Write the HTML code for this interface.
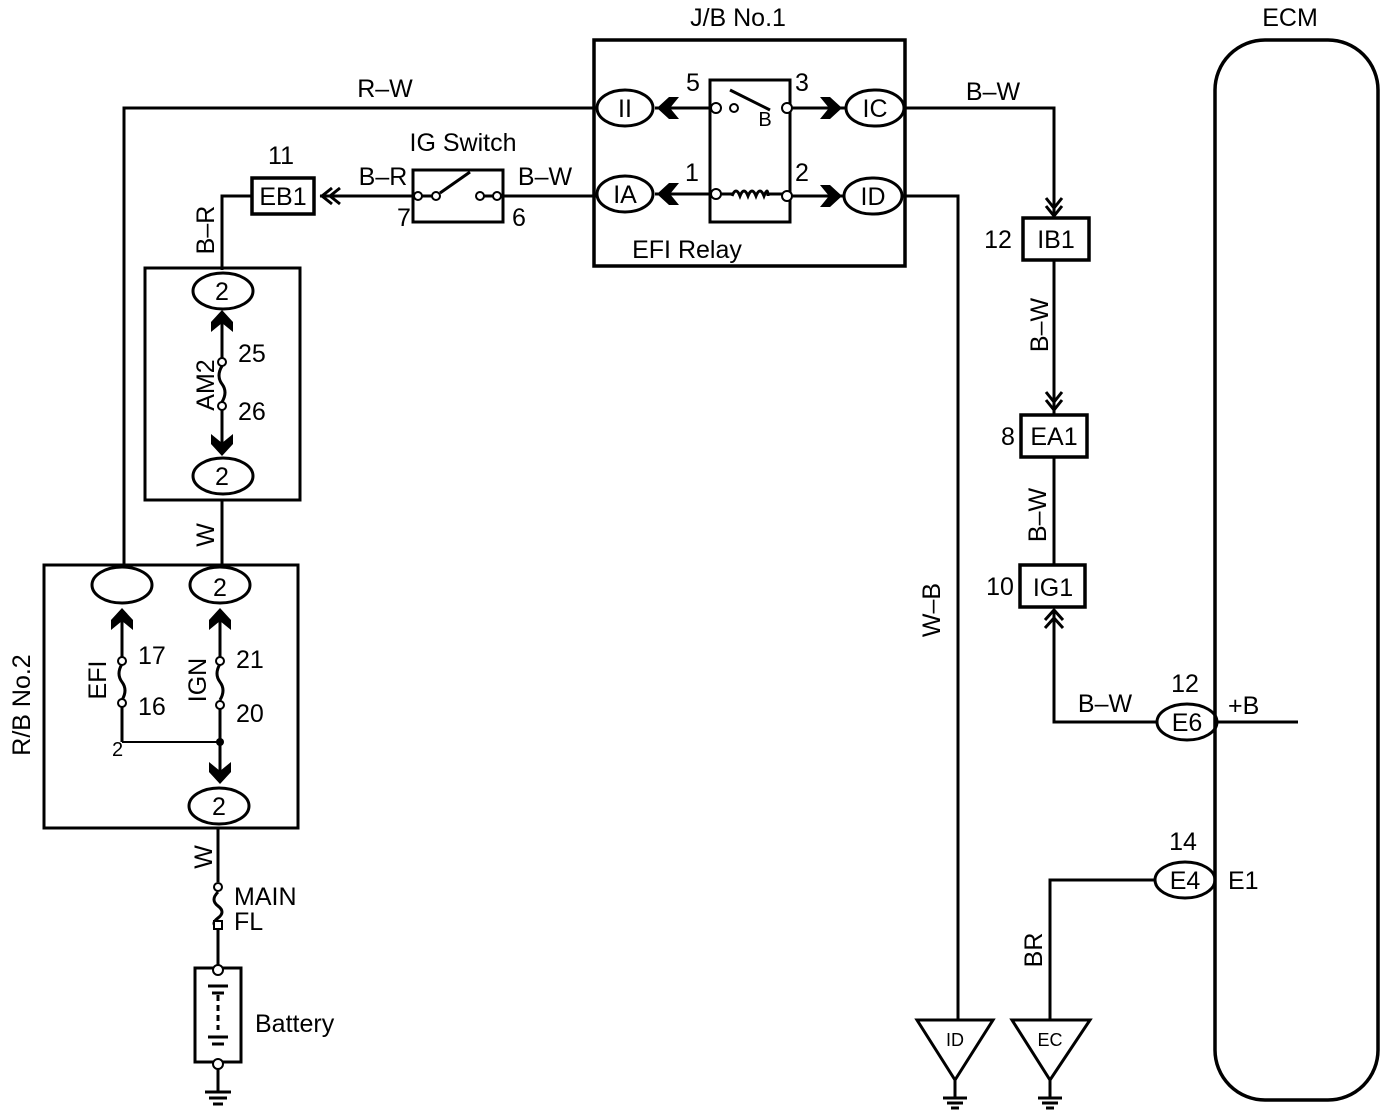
<!DOCTYPE html>
<html><head><meta charset="utf-8"><style>
html,body{margin:0;padding:0;background:#fff;}
svg{display:block;}
text{font-family:"Liberation Sans",sans-serif;fill:#000;}
</style></head><body>
<svg width="1392" height="1118" viewBox="0 0 1392 1118" xmlns="http://www.w3.org/2000/svg">
<defs>
<g id="chevL"><path d="M0,0 L12,-11 L22,-11 L13,0 L22,11 L12,11 Z" fill="#000"/></g>
<g id="chevR"><path d="M0,0 L-12,-11 L-22,-11 L-13,0 L-22,11 L-12,11 Z" fill="#000"/></g>
<g id="chevU"><path d="M0,0 L-11,12 L-11,22 L0,13 L11,22 L11,12 Z" fill="#000"/></g>
<g id="chevD"><path d="M0,0 L-11,-12 L-11,-22 L0,-13 L11,-22 L11,-12 Z" fill="#000"/></g>
</defs>
<g fill="none" stroke="#000" stroke-width="3">
<!-- J/B -->
<rect x="594" y="40" width="311" height="226" stroke-width="3.5"/>
<rect x="710" y="80" width="80" height="142"/>
<rect x="597" y="90" width="56" height="36" rx="28" ry="18"/>
<rect x="846" y="90" width="58" height="36" rx="28" ry="18"/>
<rect x="597" y="176" width="56" height="36" rx="28" ry="18"/>
<rect x="844" y="178" width="58" height="36" rx="28" ry="18"/>
<line x1="655" y1="108" x2="710" y2="108"/>
<line x1="790" y1="108" x2="846" y2="108"/>
<line x1="655" y1="194" x2="710" y2="194"/>
<line x1="790" y1="196" x2="844" y2="196"/>
<line x1="730" y1="90" x2="770" y2="110"/>
<line x1="710" y1="194" x2="732" y2="194"/><line x1="768" y1="194" x2="790" y2="194"/>
<path d="M732,196 q4,-10 8,0 q4,-10 8,0 q4,-10 8,0 q4,-10 8,0 q4,-10 4,0"/>
<!-- R-W -->
<polyline points="597,108 124,108 124,568"/>
<!-- IA to IG switch -->
<line x1="503" y1="196" x2="597" y2="196"/>
<rect x="413" y="170" width="90" height="52"/>
<line x1="418" y1="196" x2="432" y2="196"/>
<line x1="440" y1="193" x2="470" y2="172"/>
<line x1="480" y1="196" x2="497" y2="196"/>
<line x1="413" y1="196" x2="320" y2="196"/>
<polyline points="332,188 322,196 332,204"/><polyline points="340,188 330,196 340,204"/>
<rect x="252" y="178" width="62" height="36" stroke-width="3.5"/>
<polyline points="252,196 222,196 222,270"/>
<!-- AM2 box -->
<rect x="145" y="268" width="155" height="232"/>
<rect x="193" y="273" width="60" height="36" rx="30" ry="18"/>
<rect x="193" y="458" width="60" height="36" rx="30" ry="18"/>
<line x1="222" y1="320" x2="222" y2="358"/>
<path d="M222,366 q-6,10 0,18 q6,8 0,18"/>
<line x1="222" y1="410" x2="222" y2="445"/>
<line x1="222" y1="500" x2="222" y2="568"/>
<!-- R/B No.2 -->
<rect x="44" y="565" width="254" height="263"/>
<rect x="92" y="567" width="60" height="36" rx="30" ry="18"/>
<rect x="190" y="567" width="60" height="36" rx="30" ry="18"/>
<rect x="189" y="788" width="60" height="36" rx="30" ry="18"/>
<line x1="122" y1="620" x2="122" y2="657"/>
<path d="M122,664 q-6,10 0,18 q6,8 0,18"/>
<line x1="122" y1="706" x2="122" y2="742"/>
<line x1="220" y1="620" x2="220" y2="657"/>
<path d="M220,664 q-6,10 0,18 q6,8 0,18"/>
<line x1="220" y1="708" x2="220" y2="772"/>
<line x1="122" y1="742" x2="220" y2="742" stroke-width="2"/>
<line x1="218" y1="828" x2="218" y2="882"/>
<path d="M218,892 q-8,8 0,14 q8,6 0,12 q-8,6 0,10" />
<line x1="218" y1="928" x2="218" y2="965"/>
<rect x="195" y="968" width="46" height="94"/>
<line x1="208" y1="986" x2="228" y2="986"/><line x1="212" y1="993" x2="224" y2="993"/>
<line x1="218" y1="995" x2="218" y2="1030" stroke-dasharray="6,4"/>
<line x1="208" y1="1037" x2="228" y2="1037"/><line x1="212" y1="1044" x2="224" y2="1044"/>
<line x1="218" y1="1066" x2="218" y2="1092"/>
<line x1="205" y1="1092" x2="231" y2="1092"/><line x1="209" y1="1098" x2="227" y2="1098"/><line x1="213" y1="1104" x2="223" y2="1104"/>
<!-- right side -->
<polyline points="904,108 1054,108 1054,217"/>
<polyline points="1046,198 1054,208 1062,198"/><polyline points="1046,206 1054,216 1062,206"/>
<rect x="1023" y="218" width="66" height="42" stroke-width="3.5"/>
<line x1="1054" y1="260" x2="1054" y2="414"/>
<polyline points="1046,392 1054,402 1062,392"/><polyline points="1046,400 1054,410 1062,400"/>
<rect x="1021" y="415" width="66" height="42" stroke-width="3.5"/>
<line x1="1054" y1="457" x2="1054" y2="565"/>
<rect x="1020" y="565" width="65" height="42" stroke-width="3.5"/>
<polyline points="1045,620 1054,610 1063,620"/><polyline points="1045,628 1054,618 1063,628"/>
<polyline points="1054,612 1054,722 1157,722"/>
<rect x="1157" y="704" width="60" height="36" rx="30" ry="18"/>
<line x1="1217" y1="722" x2="1298" y2="722"/>
<rect x="1215" y="40" width="163" height="1060" rx="50" stroke-width="3.5"/>
<rect x="1155" y="862" width="60" height="36" rx="30" ry="18"/>
<polyline points="1155,880 1050,880 1050,1020"/>
<polyline points="902,196 958,196 958,1020"/>
<polygon points="917,1020 993,1020 955,1080"/>
<polygon points="1012,1020 1090,1020 1050,1080"/>
<line x1="955" y1="1080" x2="955" y2="1098"/><line x1="943" y1="1098" x2="967" y2="1098"/><line x1="947" y1="1103" x2="963" y2="1103"/><line x1="951" y1="1108" x2="959" y2="1108"/>
<line x1="1050" y1="1080" x2="1050" y2="1098"/><line x1="1038" y1="1098" x2="1062" y2="1098"/><line x1="1042" y1="1103" x2="1058" y2="1103"/><line x1="1046" y1="1108" x2="1054" y2="1108"/>
</g>
<use href="#chevL" x="657" y="108"/>
<use href="#chevR" x="842" y="108"/>
<use href="#chevL" x="657" y="194"/>
<use href="#chevR" x="842" y="196"/>
<use href="#chevU" x="222" y="310"/>
<use href="#chevD" x="222" y="456"/>
<use href="#chevU" x="122" y="608"/>
<use href="#chevU" x="220" y="608"/>
<use href="#chevD" x="220" y="784"/>
<g fill="#fff" stroke="#000" stroke-width="2">
<circle cx="716" cy="108" r="5"/><circle cx="734" cy="108" r="4"/><circle cx="787" cy="108" r="5"/>
<circle cx="716" cy="194" r="5"/><circle cx="787" cy="196" r="5"/>
<circle cx="418" cy="196" r="4"/><circle cx="436" cy="196" r="4"/><circle cx="480" cy="196" r="4"/><circle cx="497" cy="196" r="4"/>
<circle cx="222" cy="362" r="4"/><circle cx="222" cy="406" r="4"/>
<circle cx="122" cy="661" r="4"/><circle cx="122" cy="703" r="4"/>
<circle cx="220" cy="661" r="4"/><circle cx="220" cy="705" r="4"/>
<circle cx="218" cy="887" r="4"/><rect x="214" y="921" width="8" height="8"/>
<circle cx="218" cy="970" r="5"/><circle cx="218" cy="1064" r="5"/>
</g>
<circle cx="220" cy="742" r="4" fill="#000"/>
<g font-size="25">
<text x="738" y="26" text-anchor="middle">J/B No.1</text>
<text x="1290" y="26" text-anchor="middle">ECM</text>
<text x="385" y="97" text-anchor="middle">R–W</text>
<text x="625" y="117" text-anchor="middle">II</text>
<text x="875" y="117" text-anchor="middle">IC</text>
<text x="625" y="203" text-anchor="middle">IA</text>
<text x="873" y="205" text-anchor="middle">ID</text>
<text x="693" y="91" text-anchor="middle">5</text>
<text x="802" y="91" text-anchor="middle">3</text>
<text x="692" y="181" text-anchor="middle">1</text>
<text x="802" y="181" text-anchor="middle">2</text>
<text x="765" y="126" text-anchor="middle" font-size="20">B</text>
<text x="687" y="258" text-anchor="middle">EFI Relay</text>
<text x="463" y="151" text-anchor="middle">IG Switch</text>
<text x="383" y="185" text-anchor="middle">B–R</text>
<text x="545" y="185" text-anchor="middle">B–W</text>
<text x="404" y="226" text-anchor="middle">7</text>
<text x="519" y="226" text-anchor="middle">6</text>
<text x="281" y="164" text-anchor="middle">11</text>
<text x="283" y="205" text-anchor="middle">EB1</text>
<text x="222" y="300" text-anchor="middle">2</text>
<text x="222" y="485" text-anchor="middle">2</text>
<text x="238" y="362">25</text>
<text x="238" y="420">26</text>
<text x="220" y="596" text-anchor="middle">2</text>
<text x="219" y="815" text-anchor="middle">2</text>
<text x="138" y="664">17</text>
<text x="138" y="715">16</text>
<text x="236" y="668">21</text>
<text x="236" y="722">20</text>
<text x="112" y="756" font-size="20">2</text>
<text x="234" y="905">MAIN</text>
<text x="234" y="930">FL</text>
<text x="255" y="1032">Battery</text>
<text x="998" y="248" text-anchor="middle">12</text>
<text x="1056" y="248" text-anchor="middle">IB1</text>
<text x="1008" y="445" text-anchor="middle">8</text>
<text x="1054" y="445" text-anchor="middle">EA1</text>
<text x="1000" y="595" text-anchor="middle">10</text>
<text x="1053" y="596" text-anchor="middle">IG1</text>
<text x="993" y="100" text-anchor="middle">B–W</text>
<text x="1105" y="712" text-anchor="middle">B–W</text>
<text x="1185" y="692" text-anchor="middle">12</text>
<text x="1187" y="731" text-anchor="middle">E6</text>
<text x="1228" y="714">+B</text>
<text x="1183" y="850" text-anchor="middle">14</text>
<text x="1185" y="889" text-anchor="middle">E4</text>
<text x="1228" y="889">E1</text>
<text x="955" y="1046" text-anchor="middle" font-size="18">ID</text>
<text x="1050" y="1046" text-anchor="middle" font-size="18">EC</text>
<text transform="translate(214,230) rotate(-90)" text-anchor="middle">B–R</text>
<text transform="translate(214,385) rotate(-90)" text-anchor="middle">AM2</text>
<text transform="translate(214,535) rotate(-90)" text-anchor="middle">W</text>
<text transform="translate(106,680) rotate(-90)" text-anchor="middle">EFI</text>
<text transform="translate(206,680) rotate(-90)" text-anchor="middle">IGN</text>
<text transform="translate(30,705) rotate(-90)" text-anchor="middle">R/B No.2</text>
<text transform="translate(212,857) rotate(-90)" text-anchor="middle">W</text>
<text transform="translate(1048,325) rotate(-90)" text-anchor="middle">B–W</text>
<text transform="translate(1046,515) rotate(-90)" text-anchor="middle">B–W</text>
<text transform="translate(940,610) rotate(-90)" text-anchor="middle">W–B</text>
<text transform="translate(1042,950) rotate(-90)" text-anchor="middle">BR</text>
</g>
</svg>
</body></html>
